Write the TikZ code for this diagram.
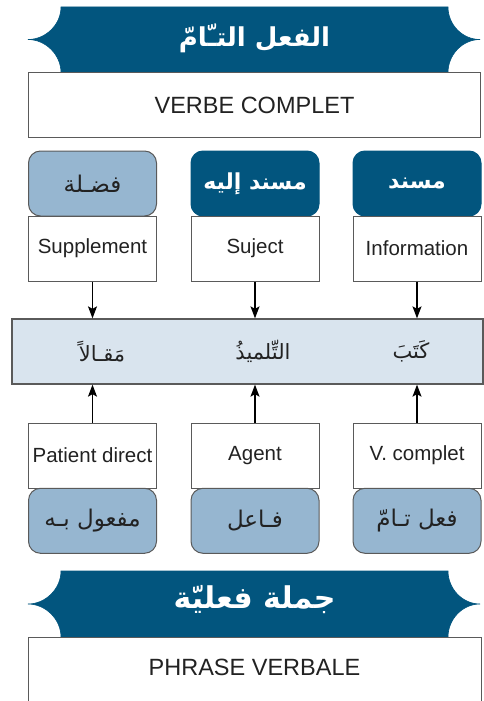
\documentclass[tikz,border=0pt]{standalone}
\usepackage{fontspec}
\setmainfont{Liberation Sans}
\newfontfamily\arabicfont[Script=Arabic]{DejaVu Sans}
\TeXXeTstate=1
\usetikzlibrary{arrows.meta}

\definecolor{navy}{HTML}{02557E}
\definecolor{paleblue}{HTML}{96B6D0}
\definecolor{bandblue}{HTML}{D9E4EE}
\definecolor{rulegrey}{HTML}{5A5A5A}
\definecolor{ink}{HTML}{222222}

\newcommand{\artext}[1]{{\arabicfont\beginR #1\endR}}
\newcommand{\fs}[1]{\fontsize{#1}{#1}\selectfont}

\tikzset{
  banner/.style={fill=navy, draw=navy, line width=0.6pt},
  bannertext/.style={text=white, font=\fs{26}\arabicfont\bfseries, inner sep=0pt},
  widebox/.style={draw=rulegrey, fill=white, line width=1pt, minimum width=452pt, minimum height=64.5pt, font=\fs{23.5}, text=ink, inner sep=0pt},
  labelbox/.style={draw=rulegrey, fill=white, line width=1pt, minimum width=128pt, minimum height=65pt, font=\fs{20.5}, text=ink, inner sep=0pt},
  darktag/.style={draw=navy, fill=navy, line width=1pt, rounded corners=12pt, minimum width=128pt, minimum height=65pt, text=white, font=\fs{22}\arabicfont\bfseries, inner sep=0pt},
  paletag/.style={draw=rulegrey, fill=paleblue, line width=1pt, rounded corners=12pt, minimum width=128pt, minimum height=65pt, text=ink, font=\fs{23}\arabicfont, inner sep=0pt},
  band/.style={draw=rulegrey, fill=bandblue, line width=1.3pt, minimum width=471pt, minimum height=65pt, inner sep=0pt},
  bandword/.style={text=ink, font=\fs{21}\arabicfont, inner sep=0pt},
  link/.style={line width=1.2pt, -{Stealth[length=12pt, width=9pt, inset=2.5pt]}}
}

\begin{document}
\begin{tikzpicture}[x=1pt, y=-1pt]
\useasboundingbox (0,0) rectangle (484,701);

% ---- top banner with scalloped ends ----
\path[banner] (61,7) -- (448,7)
  .. controls (448,24.7) and (462.3,39.5) .. (480,39.5)
  .. controls (462.3,39.5) and (448,54.8) .. (448,72.5)
  -- (61,72.5)
  .. controls (61,54.8) and (45.7,39.5) .. (28,39.5)
  .. controls (45.7,39.5) and (61,24.7) .. (61,7) -- cycle;
\node[bannertext] (title) at (254.5,38) {\artext{الفعل التـّامّ}};

\node[widebox] (verbe) at (254.5,105) {VERBE COMPLET};

% ---- upper tags and labels ----
\node[paletag] (fadla) at (92.5,183.5) {\artext{فضـلة}};
\node[darktag] (musnadilayh) at (255,183.5) {\artext{مسند إليه}};
\node[darktag] (musnad) at (417,183.5) {\artext{مسند}};

\node[labelbox] (supp) at (92.5,248.5) {Supplement};
\node[labelbox] (sujet) at (255,248.5) {Suject};
\node[labelbox] (info) at (417,248.5) {Information};

% ---- the sentence ----
\node[band] (phrase) at (247.5,351.5) {};
\node[bandword] (maqal) at (102,351.5) {\artext{مَقـالاً}};
\node[bandword] (tilmidh) at (263,351.5) {\artext{التِّلميذُ}};
\node[bandword] (kataba) at (411,351.5) {\artext{كَتَبَ}};

% ---- lower labels and tags ----
\node[labelbox] (patient) at (92.5,455.5) {Patient direct};
\node[labelbox] (agent) at (255,455.5) {Agent};
\node[labelbox] (vcomp) at (417,455.5) {V. complet};

\node[paletag] (mafoul) at (92.5,520.8) {\artext{مفعول بـه}};
\node[paletag] (fail) at (255,520.8) {\artext{فـاعل}};
\node[paletag] (fiil) at (417,520.8) {\artext{فعل تـامّ}};

% ---- arrows into the sentence ----
\draw[link] (supp.south) -- (supp.south |- phrase.north);
\draw[link] (sujet.south) -- (sujet.south |- phrase.north);
\draw[link] (info.south) -- (info.south |- phrase.north);
\draw[link] (patient.north) -- (patient.north |- phrase.south);
\draw[link] (agent.north) -- (agent.north |- phrase.south);
\draw[link] (vcomp.north) -- (vcomp.north |- phrase.south);

% ---- bottom banner ----
\path[banner] (61,571) -- (448,571)
  .. controls (448,588.7) and (462.3,604) .. (480,604)
  .. controls (462.3,604) and (448,619.3) .. (448,637)
  -- (61,637)
  .. controls (61,619.3) and (45.7,604) .. (28,604)
  .. controls (45.7,604) and (61,588.7) .. (61,571) -- cycle;
\node[bannertext, font=\fs{30}\arabicfont\bfseries] (jumla) at (254.5,600) {\artext{جملة فعليّة}};

% open-ended box running off the lower edge
\fill[white] (28,637) rectangle (481,702);
\draw[rulegrey, line width=1pt] (28,702) -- (28,637) -- (481,637) -- (481,702);
\node[font=\fs{23.5}, text=ink, inner sep=0pt] (verbale) at (254.5,667) {PHRASE VERBALE};

\end{tikzpicture}
\end{document}
